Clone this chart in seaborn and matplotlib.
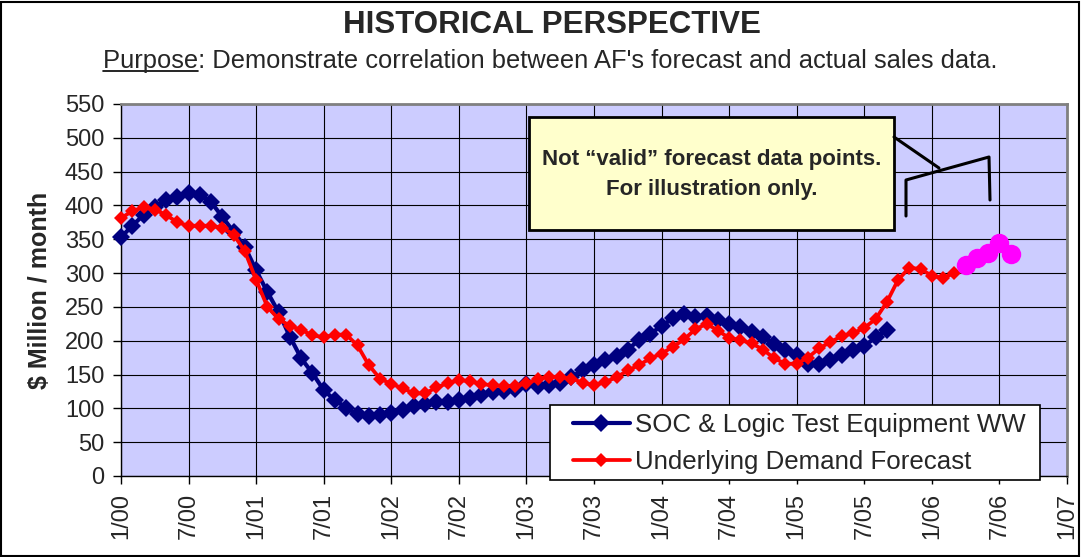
import matplotlib
matplotlib.use("Agg")
import matplotlib.pyplot as plt
from matplotlib.patches import Rectangle
from matplotlib.lines import Line2D
import seaborn as sns
import pandas as pd

sns.set_style("white")
plt.rcParams['font.family'] = ['Liberation Sans', 'DejaVu Sans']

# ---------------- data (monthly, starting 1/00) ----------------
tick_labels = ["1/00", "7/00", "1/01", "7/01", "1/02", "7/02", "1/03", "7/03",
               "1/04", "7/04", "1/05", "7/05", "1/06", "7/06", "1/07"]

soc_actual = [353, 370, 386, 398, 408, 413, 419, 415, 405, 383, 361, 339,
              304, 272, 242, 206, 174, 152, 127, 112, 101, 91, 89, 90,
              93, 98, 103, 107, 110, 110, 112, 115, 120, 124, 125, 129,
              136, 133, 135, 138, 147, 156, 164, 171, 178, 187, 201, 210,
              222, 233, 240, 235, 236, 230, 225, 220, 213, 206, 195, 186,
              179, 165, 165, 171, 179, 186, 192, 205, 216]

demand_forecast = [381, 392, 397, 394, 386, 375, 370, 370, 370, 367, 357, 332,
                   290, 250, 232, 222, 216, 208, 205, 209, 209, 193, 164, 144,
                   136, 130, 122, 122, 131, 137, 142, 140, 136, 134, 133, 133,
                   137, 143, 147, 146, 144, 138, 134, 139, 146, 156, 164, 174,
                   181, 191, 202, 217, 225, 215, 204, 201, 196, 187, 174, 166,
                   166, 175, 189, 198, 207, 211, 219, 232, 257, 290, 308, 306,
                   296, 293, 300]

illustration_start = 75  # month index of first illustrative point (4/06)
illustration_vals = [312, 322, 329, 344, 328]

soc_df = pd.DataFrame({"month": list(range(len(soc_actual))), "value": soc_actual})
fc_df = pd.DataFrame({"month": list(range(len(demand_forecast))), "value": demand_forecast})
il_df = pd.DataFrame({"month": [illustration_start + i for i in range(len(illustration_vals))],
                      "value": illustration_vals})

# ---------------- figure ----------------
W, H = 1081, 557
fig = plt.figure(figsize=(W / 100, H / 100), dpi=100)
fig.patch.set_facecolor("white")
ax_l, ax_r, ax_t, ax_b = 121, 1067, 104, 476
ax = fig.add_axes([ax_l / W, 1 - ax_b / H, (ax_r - ax_l) / W, (ax_b - ax_t) / H])
ax.set_facecolor("#CCCCFF")

navy = "#000080"
red = "#FF0000"
mag = "#FF00FF"

sns.lineplot(data=soc_df, x="month", y="value", ax=ax, color=navy, linewidth=3.0,
             marker="D", markersize=9.5, markeredgecolor=navy, markeredgewidth=0,
             label="SOC & Logic Test Equipment WW", zorder=3, clip_on=False)
sns.lineplot(data=fc_df, x="month", y="value", ax=ax, color=red, linewidth=2.7,
             marker="D", markersize=7.5, markeredgecolor=red, markeredgewidth=0,
             label="Underlying Demand Forecast", zorder=4, clip_on=False)
sns.lineplot(data=il_df, x="month", y="value", ax=ax, color=mag, linewidth=3,
             marker="o", markersize=14, markeredgecolor=mag, markeredgewidth=0,
             label="_nolegend_", zorder=5)

ax.set_xlim(0, 84)
ax.set_ylim(0, 550)
ax.set_xticks(range(0, 85, 6))
ax.set_xticklabels(tick_labels, rotation=90)
ax.set_yticks(range(0, 551, 50))
ax.grid(True, color="black", linewidth=0.8)
ax.set_axisbelow(True)
ax.tick_params(axis="both", direction="out", length=6, width=1, color="black",
               labelsize=17, pad=6, bottom=True, left=True)
ax.set_xlabel("")
ax.set_ylabel("$ Million / month", fontsize=18, fontweight="bold")
ax.yaxis.set_label_coords(-0.073, 0.5)

for s in ["left", "bottom"]:
    ax.spines[s].set_color("black")
    ax.spines[s].set_linewidth(1)
for s in ["top", "right"]:
    ax.spines[s].set_color("#808080")
    ax.spines[s].set_linewidth(2)


def px(x, y):
    return ((x - ax_l) / (ax_r - ax_l), (ax_b - y) / (ax_b - ax_t))


# legend frame (drawn separately) + frameless legend content
lf0, lf1 = px(550, 480), px(1040, 405)
ax.add_patch(Rectangle(lf0, lf1[0] - lf0[0], lf1[1] - lf0[1], transform=ax.transAxes,
                       facecolor="white", edgecolor="black", linewidth=1.2,
                       zorder=10, clip_on=False))
handles, labels = ax.get_legend_handles_labels()
keep = [(h, l) for h, l in zip(handles, labels) if not l.startswith("_")]
leg = ax.legend([k[0] for k in keep], [k[1] for k in keep],
                loc="upper left", bbox_to_anchor=px(573, 413),
                borderaxespad=0, borderpad=0, fontsize=18.6, frameon=False,
                handlelength=2.2, handletextpad=0.2, labelspacing=0.5)
leg.set_zorder(11)

# annotation box
bx0, bx1 = (529 - ax_l) / (ax_r - ax_l), (894 - ax_l) / (ax_r - ax_l)
by0, by1 = (ax_b - 230) / (ax_b - ax_t), (ax_b - 117) / (ax_b - ax_t)
ax.add_patch(Rectangle((bx0, by0), bx1 - bx0, by1 - by0, transform=ax.transAxes,
                       facecolor="#FFFFCC", edgecolor="black", linewidth=2, zorder=8))
cx = (bx0 + bx1) / 2
ax.text(cx, (ax_b - 160) / (ax_b - ax_t), "Not \u201cvalid\u201d forecast data points.",
        transform=ax.transAxes, ha="center", va="center", fontsize=16,
        fontweight="bold", zorder=9)
ax.text(cx, (ax_b - 189) / (ax_b - ax_t), "For illustration only.",
        transform=ax.transAxes, ha="center", va="center", fontsize=16,
        fontweight="bold", zorder=9)

p1, p2 = px(894, 137), px(939, 168)
ax.add_line(Line2D([p1[0], p2[0]], [p1[1], p2[1]], transform=ax.transAxes,
                   color="black", linewidth=2.2, zorder=9))
pts = [px(906, 216), px(906, 180), px(989, 157), px(990, 200)]
ax.add_line(Line2D([p[0] for p in pts], [p[1] for p in pts], transform=ax.transAxes,
                   color="black", linewidth=2.2, zorder=9))

# titles
fig.text(552 / W, 1 - 33 / H, "HISTORICAL PERSPECTIVE", ha="center", va="baseline",
         fontsize=22.5, fontweight="bold")
sub_text = "Purpose: Demonstrate correlation between AF's forecast and actual sales data."
sub = fig.text(550 / W, 1 - 68 / H, sub_text, ha="center", va="baseline", fontsize=18.4)
fig.canvas.draw()
r = fig.canvas.get_renderer()
bb = sub.get_window_extent(r)
tmp = fig.text(0, 0, "Purpose", fontsize=18.4)
wb = tmp.get_window_extent(r)
tmp.remove()
uy = 1 - 71 / H
fig.add_artist(Line2D([bb.x0 / W, (bb.x0 + wb.width) / W], [uy, uy],
                      transform=fig.transFigure, color="black", linewidth=1.2))

# outer border
fig.add_artist(Rectangle((0.001, 0.002), 0.997, 0.995, transform=fig.transFigure,
                         fill=False, edgecolor="black", linewidth=1.5))

fig.savefig("out.png", dpi=100)
